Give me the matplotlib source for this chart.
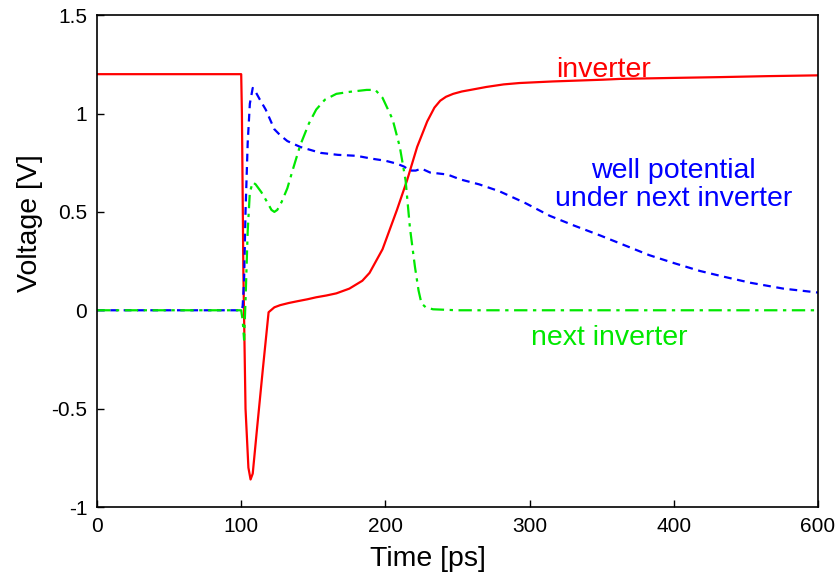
import numpy as np
import matplotlib.pyplot as plt

plt.rcParams['font.family'] = ['Liberation Sans', 'DejaVu Sans']

# inverter output
t_inv = [0, 100, 100.5, 101.5, 103, 105, 106.5, 108, 111, 115, 119, 123, 127, 133, 139, 146, 152, 159, 166,
         175, 184, 189, 198, 208, 215, 222, 229, 234, 238, 242, 247, 253, 259, 270, 282, 293, 316, 351, 363,
         400, 432, 465, 500]
v_inv = [1.2, 1.2, 1.0, 0.2, -0.5, -0.8, -0.86, -0.83, -0.6, -0.3, -0.01, 0.015, 0.026, 0.037, 0.046, 0.056,
         0.066, 0.075, 0.086, 0.11, 0.15, 0.19, 0.31, 0.51, 0.66, 0.83, 0.96, 1.03, 1.065, 1.085, 1.10, 1.112,
         1.12, 1.135, 1.148, 1.155, 1.163, 1.172, 1.176, 1.181, 1.185, 1.19, 1.194]

# well potential under next inverter
t_well = [0, 100, 101, 102, 103, 104.5, 106, 108, 110, 113, 117, 120, 123, 127, 132, 141, 155, 167, 180,
          191, 200, 208, 213, 217, 221, 225, 231, 243, 252, 265, 279, 297, 314, 331, 349, 366, 383, 400,
          418, 435, 453, 476, 500]
v_well = [0, 0, 0.02, 0.15, 0.5, 0.85, 1.05, 1.13, 1.11, 1.07, 1.02, 0.97, 0.92, 0.89, 0.86, 0.83, 0.80, 0.79,
          0.785, 0.77, 0.76, 0.745, 0.73, 0.71, 0.71, 0.72, 0.70, 0.69, 0.665, 0.64, 0.605, 0.545, 0.48, 0.43,
          0.38, 0.33, 0.28, 0.24, 0.20, 0.17, 0.14, 0.11, 0.09]

# next inverter
t_next = [0, 100, 101, 102, 103, 104.5, 106, 108, 110, 114, 118, 121, 123, 125, 128, 132, 136, 141, 147, 152,
          158, 166, 175, 187, 193, 198, 205, 210, 214, 217, 220.5, 223, 225, 228, 233, 250, 500]
v_next = [0, 0, -0.05, -0.15, 0.05, 0.4, 0.6, 0.65, 0.64, 0.6, 0.55, 0.51, 0.50, 0.51, 0.55, 0.62, 0.72, 0.84,
          0.95, 1.02, 1.07, 1.10, 1.11, 1.12, 1.12, 1.08, 0.97, 0.83, 0.66, 0.42, 0.22, 0.10, 0.035, 0.015, 0.005, 0, 0]

x_ticks = [0, 100, 200, 300, 400, 500]
x_tick_labels = ['0', '100', '200', '300', '400', '600']
y_ticks = [-1, -0.5, 0, 0.5, 1, 1.5]
y_tick_labels = ['-1', '-0.5', '0', '0.5', '1', '1.5']

fig = plt.figure(figsize=(8.39, 5.78), dpi=100)
ax = fig.add_axes([0.1156, 0.1228, 0.8594, 0.851])

ax.plot(t_inv, v_inv, color='#ff0000', lw=1.6, ls='-')
ax.plot(t_well, v_well, color='#0000ff', lw=1.6, ls=(0, (3.5, 2.5)))
ax.plot(t_next, v_next, color='#00e800', lw=1.6, ls=(0, (6, 2.5, 1.5, 2.5)))

ax.text(351, 1.22, 'inverter', color='#ff0000', fontsize=20.5, ha='center', va='center')
ax.text(400, 0.635, 'well potential\nunder next inverter', color='#0000ff', fontsize=20.5,
        ha='center', va='center', linespacing=1.1)
ax.text(355, -0.142, 'next inverter', color='#00e800', fontsize=20.5, ha='center', va='center')

ax.set_xlim(0, 500)
ax.set_ylim(-1, 1.5)
ax.set_xticks(x_ticks)
ax.set_xticklabels(x_tick_labels)
ax.set_yticks(y_ticks)
ax.set_yticklabels(y_tick_labels)
ax.tick_params(direction='in', labelsize=15, length=5, width=1, pad=7)
for s in ax.spines.values():
    s.set_linewidth(1.2)

ax.set_xlabel('Time [ps]', fontsize=20.5)
ax.set_ylabel('Voltage [V]', fontsize=20.5)
ax.xaxis.set_label_coords(0.459, -0.079)
ax.yaxis.set_label_coords(-0.075, 0.577)

fig.savefig('out.png', dpi=100)
